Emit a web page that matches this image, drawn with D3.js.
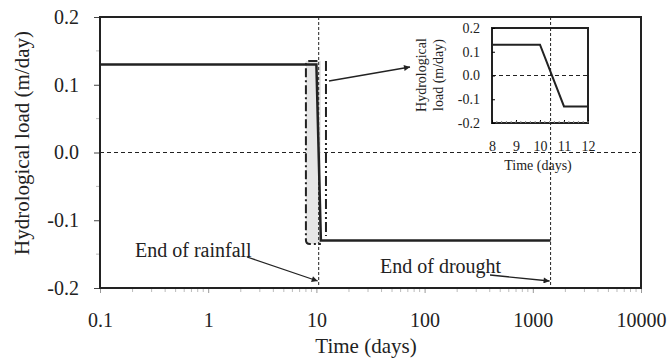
<!DOCTYPE html>
<html>
<head>
<meta charset="utf-8">
<script src="https://cdn.jsdelivr.net/npm/d3@7"></script>
<style>
  body { margin: 0; background: #fff; }
  text { font-family: "Liberation Serif", "Times New Roman", serif; fill: #222; }
</style>
</head>
<body>
<div class="container"></div>
<script>
// data
const mainTime = [0.1, 10, 11, 1460];
const mainLoad = [0.13, 0.13, -0.13, -0.13];
const insetTime = [8, 10, 11, 12];
const insetLoad = [0.13, 0.13, -0.13, -0.13];
const xTicks = [0.1, 1, 10, 100, 1000, 10000];
const yTicks = [0.2, 0.1, 0.0, -0.1, -0.2];
const insetXTicks = [8, 9, 10, 11, 12];
const insetYTicks = [0.2, 0.1, 0.0, -0.1, -0.2];
const rainfallEnd = 10.5;
const droughtEnd = 1460;
const zoomTime = [8, 12];
const zoomLoad = [-0.135, 0.135];

let width = 668;
let height = 360;

const svg = d3.select('.container')
    .append('svg')
    .attr('width', width)
    .attr('height', height)
    .attr('font-family', '"Liberation Serif", serif');

const fmt = d => d3.format('.1f')(d).replace('\u2212', '-');

// main scales
let x = d3.scaleLog().domain([0.1, 10000]).range([100, 641]);
let y = d3.scaleLinear().domain([-0.2, 0.2]).range([288, 17]);

let line = d3.line()
    .x(d => x(d[0]))
    .y(d => y(d[1]));

// zero line
svg.append('line')
    .attr('x1', x(0.1)).attr('x2', x(10000))
    .attr('y1', y(0)).attr('y2', y(0))
    .attr('stroke', '#222').attr('stroke-width', 1)
    .attr('stroke-dasharray', '4,3');

// magnifier box around the drop
let zx0 = x(zoomTime[0]), zx1 = x(zoomTime[1]);
let zy0 = y(zoomLoad[1]), zy1 = y(zoomLoad[0]);
svg.append('rect')
    .attr('x', zx0).attr('y', zy0)
    .attr('width', x(11) - zx0).attr('height', zy1 - zy0)
    .attr('fill', '#e6e6e6');
svg.append('path')
    .attr('d', `M${x(10) + 1},${zy0} L${zx0 + 4},${zy0} Q${zx0},${zy0} ${zx0},${zy0 + 4} L${zx0},${zy1 - 4} Q${zx0},${zy1} ${zx0 + 4},${zy1} L${x(11)},${zy1}`)
    .attr('fill', 'none').attr('stroke', '#222').attr('stroke-width', 2)
    .attr('stroke-dasharray', '9,3,2,3');
svg.append('line')
    .attr('x1', zx1 + 1).attr('x2', zx1 + 1)
    .attr('y1', zy0).attr('y2', zy1 - 8)
    .attr('stroke', '#222').attr('stroke-width', 2)
    .attr('stroke-dasharray', '10,3,2,3,2,3');

// vertical event lines
[rainfallEnd, droughtEnd].forEach(t => {
    svg.append('line')
        .attr('x1', x(t)).attr('x2', x(t))
        .attr('y1', y(0.2)).attr('y2', y(-0.2))
        .attr('stroke', '#222').attr('stroke-width', 1)
        .attr('stroke-dasharray', '3,2');
});

// main series
svg.append('path')
    .datum(d3.zip(mainTime, mainLoad))
    .attr('d', line)
    .attr('fill', 'none')
    .attr('stroke', '#222')
    .attr('stroke-width', 2.5);

// frame
svg.append('rect')
    .attr('x', x(0.1)).attr('y', y(0.2))
    .attr('width', x(10000) - x(0.1)).attr('height', y(-0.2) - y(0.2))
    .attr('fill', 'none').attr('stroke', '#222').attr('stroke-width', 2);

// axes
let xAxis = d3.axisBottom(x)
    .tickValues(xTicks)
    .tickFormat(d => d)
    .tickSize(4);
let gx = svg.append('g')
    .attr('transform', `translate(0,${y(-0.2) + 1})`)
    .call(xAxis);
gx.select('.domain').remove();
gx.selectAll('.tick line').attr('stroke', '#999');
gx.selectAll('text').attr('font-size', 20).attr('dy', '1.55em').attr('fill', '#222')
    .attr('font-family', '"Liberation Serif", serif');

// minor x ticks
let minor = [];
for (let e = -1; e < 4; e++) {
    for (let k = 2; k < 10; k++) minor.push(k * Math.pow(10, e));
}
svg.selectAll('.xminor')
    .data(minor)
    .enter().append('line')
    .attr('class', 'xminor')
    .attr('x1', d => x(d)).attr('x2', d => x(d))
    .attr('y1', y(-0.2) + 1).attr('y2', y(-0.2) + 4)
    .attr('stroke', '#bbb');

let yAxis = d3.axisLeft(y)
    .tickValues(yTicks)
    .tickFormat(fmt)
    .tickSize(5)
    .tickPadding(15);
let gy = svg.append('g')
    .attr('transform', `translate(${x(0.1) - 1},0)`)
    .call(yAxis);
gy.select('.domain').remove();
gy.selectAll('.tick line').attr('stroke', '#444');
gy.selectAll('text').attr('font-size', 20).attr('fill', '#222')
    .attr('font-family', '"Liberation Serif", serif');

svg.selectAll('.yminor')
    .data([0.15, 0.05, -0.05, -0.15])
    .enter().append('line')
    .attr('class', 'yminor')
    .attr('x1', x(0.1) - 4).attr('x2', x(0.1) - 1)
    .attr('y1', d => y(d)).attr('y2', d => y(d))
    .attr('stroke', '#bbb');

// axis titles
svg.append('text')
    .attr('x', 366).attr('y', 353)
    .attr('text-anchor', 'middle')
    .attr('font-size', 21)
    .text('Time (days)');
svg.append('text')
    .attr('transform', 'translate(29,143) rotate(-90)')
    .attr('text-anchor', 'middle')
    .attr('font-size', 21)
    .text('Hydrological load (m/day)');

// arrow marker
svg.append('defs').append('marker')
    .attr('id', 'arrow')
    .attr('viewBox', '0 0 10 10')
    .attr('refX', 10).attr('refY', 5)
    .attr('markerWidth', 9).attr('markerHeight', 6)
    .attr('markerUnits', 'userSpaceOnUse')
    .attr('orient', 'auto')
    .append('path')
    .attr('d', 'M0,0 L10,5 L0,10 Z')
    .attr('fill', '#222');

function arrow(x1, y1, x2, y2) {
    svg.append('line')
        .attr('x1', x1).attr('y1', y1)
        .attr('x2', x2).attr('y2', y2)
        .attr('stroke', '#222').attr('stroke-width', 1.3)
        .attr('marker-end', 'url(#arrow)');
}

// annotations
svg.append('text')
    .attr('x', 135).attr('y', 257)
    .attr('font-size', 20)
    .text('End of rainfall');
arrow(247, 257, x(rainfallEnd) - 1, 281);

svg.append('text')
    .attr('x', 380).attr('y', 273)
    .attr('font-size', 20)
    .text('End of drought');
arrow(490, 275, x(droughtEnd) - 1, 281);

arrow(zx1 + 4, 81, 410, 67);

// inset
let ix = d3.scaleLinear().domain([8, 12]).range([492, 588]);
let iy = d3.scaleLinear().domain([-0.2, 0.2]).range([123, 28]);

let inset = svg.append('g');
inset.append('rect')
    .attr('x', 492).attr('y', 28)
    .attr('width', 96).attr('height', 95)
    .attr('fill', '#fff');

inset.append('line')
    .attr('x1', ix(8)).attr('x2', ix(12))
    .attr('y1', iy(0)).attr('y2', iy(0))
    .attr('stroke', '#222').attr('stroke-dasharray', '4,3');

// redraw the drought line over inset background
inset.append('line')
    .attr('x1', x(droughtEnd)).attr('x2', x(droughtEnd))
    .attr('y1', iy(0.2)).attr('y2', iy(-0.2))
    .attr('stroke', '#222').attr('stroke-width', 1)
    .attr('stroke-dasharray', '3,2');

inset.append('path')
    .datum(d3.zip(insetTime, insetLoad))
    .attr('d', d3.line().x(d => ix(d[0])).y(d => iy(d[1])))
    .attr('fill', 'none')
    .attr('stroke', '#222')
    .attr('stroke-width', 2);

inset.append('rect')
    .attr('x', ix(8)).attr('y', iy(0.2))
    .attr('width', ix(12) - ix(8)).attr('height', iy(-0.2) - iy(0.2))
    .attr('fill', 'none').attr('stroke', '#222').attr('stroke-width', 2);

let igy = inset.append('g')
    .attr('transform', `translate(${ix(8)},0)`)
    .call(d3.axisLeft(iy).tickValues(insetYTicks).tickFormat(fmt).tickSize(-3).tickPadding(12));
igy.select('.domain').remove();
igy.selectAll('text').attr('font-size', 14).attr('fill', '#222')
    .attr('font-family', '"Liberation Serif", serif');

let igx = inset.append('g')
    .attr('transform', `translate(0,${iy(-0.2)})`)
    .call(d3.axisBottom(ix).tickValues(insetXTicks).tickFormat(d => d).tickSize(-3).tickPadding(18));
igx.select('.domain').remove();
igx.selectAll('text').attr('font-size', 14).attr('fill', '#222')
    .attr('font-family', '"Liberation Serif", serif');

inset.selectAll('.iminor')
    .data(d3.range(8.2, 12, 0.2))
    .enter().append('line')
    .attr('x1', d => ix(d)).attr('x2', d => ix(d))
    .attr('y1', iy(-0.2)).attr('y2', iy(-0.2) - 2)
    .attr('stroke', '#888');

inset.append('text')
    .attr('x', 538).attr('y', 170)
    .attr('text-anchor', 'middle')
    .attr('font-size', 14)
    .text('Time (days)');

let ilab = inset.append('text')
    .attr('transform', 'translate(426,75) rotate(-90)')
    .attr('text-anchor', 'middle')
    .attr('font-size', 14);
ilab.append('tspan').attr('x', 0).attr('dy', 0).text('Hydrological');
ilab.append('tspan').attr('x', 0).attr('dy', '1.2em').text('load (m/day)');
</script>
</body>
</html>
